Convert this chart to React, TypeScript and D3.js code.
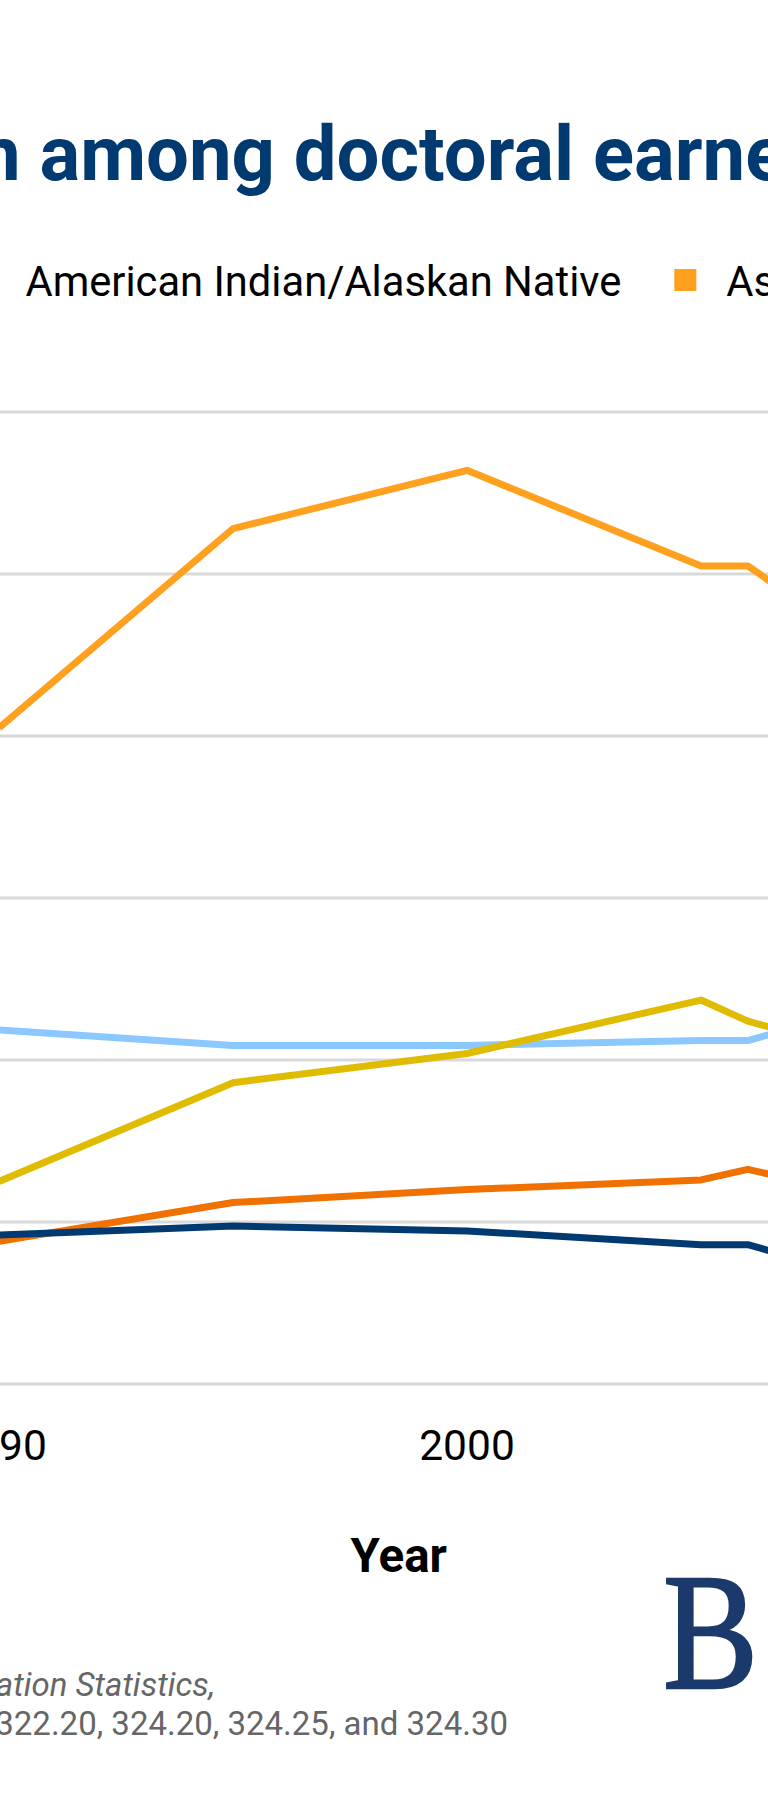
import React, { useEffect, useRef } from "react";
import * as d3 from "d3";

const W = 768;
const H = 1818;

// ---- data ----
const years = [1990, 1995, 2000, 2005, 2006, 2007];
const seriesNames = ["American Indian/Alaskan Native", "Asian", "Black", "Hispanic", "White"];
const americanIndian = [8.8, 11.2, 12.0, 12.6, 13.25, 12.6];
const asian = [40.5, 52.8, 56.4, 50.5, 50.5, 48.5];
const black = [21.85, 20.9, 20.9, 21.2, 21.2, 22.0];
const hispanic = [12.5, 18.6, 20.4, 23.7, 22.4, 21.6];
const white = [9.2, 9.75, 9.45, 8.6, 8.6, 7.8];
const seriesValues = [americanIndian, asian, black, hispanic, white];
const seriesColors = ["#F07000", "#FFA01E", "#8AC8FF", "#DFBC00", "#003A70"];
const yTicks = [0, 10, 20, 30, 40, 50, 60];
const xTicks = [1980, 1990, 2000, 2010];
const xDomain = [1980, 2017];

const titleHead = "Racial/ethnic representatio";
const titleTail = "n among doctoral earners, 1980–2017";
const sourceLine1a = "Source: U.S. Department of Education, National Center for Education Statistics, ";
const sourceLine1b = "Digest of Education Statistics,";
const sourceLine2 = "2018, Tables 322.20, 324.20, 324.25, and 324.30";

// ---- layout ----
const plotLeft = -469;
const plotRight = 1262.6;
const plotTop = 412;
const plotBottom = 1384;
const FONT = "Roboto, 'Noto Sans', sans-serif";

export default function App() {
  const ref = useRef<SVGSVGElement>(null);

  useEffect(() => {
    const svg = d3.select(ref.current);
    svg.selectAll("*").remove();

    const x = d3.scaleLinear().domain(xDomain).range([plotLeft, plotRight]);
    const y = d3.scaleLinear().domain([0, 60]).range([plotBottom, plotTop]);

    svg.append("rect").attr("width", W).attr("height", H).attr("fill", "#fff");

    // title
    const titleX = -22;
    svg.append("text")
      .attr("x", titleX).attr("y", 180)
      .attr("text-anchor", "end")
      .attr("font-family", FONT).attr("font-weight", 700).attr("font-size", 76)
      .attr("fill", "#003A70")
      .text(titleHead);
    svg.append("text")
      .attr("x", titleX).attr("y", 180)
      .attr("text-anchor", "start")
      .attr("font-family", FONT).attr("font-weight", 700).attr("font-size", 76)
      .attr("fill", "#003A70")
      .text(titleTail);

    // legend
    const legendY = 296;
    const markerSize = 22;
    const markerGap = 30;
    const itemGap = 53;
    let lx = 25.5;
    seriesNames.forEach((name, i) => {
      const g = svg.append("g");
      const t = g.append("text")
        .attr("x", lx).attr("y", legendY)
        .attr("font-family", FONT).attr("font-size", 41.7)
        .attr("fill", "#000")
        .text(name);
      g.append("rect")
        .attr("x", lx - markerGap - markerSize)
        .attr("y", legendY - 27)
        .attr("width", markerSize).attr("height", markerSize)
        .attr("fill", seriesColors[i]);
      const w = (t.node() as SVGTextElement).getComputedTextLength();
      lx = lx + w + itemGap + markerSize + markerGap;
    });

    // gridlines
    svg.append("g").selectAll("line").data(yTicks).join("line")
      .attr("x1", plotLeft).attr("x2", plotRight)
      .attr("y1", (d) => y(d)).attr("y2", (d) => y(d))
      .attr("stroke", "#D9D9D9").attr("stroke-width", 3);

    // lines
    const line = d3.line<number>()
      .x((_, i) => x(years[i]))
      .y((d) => y(d));
    svg.append("g").selectAll("path").data(seriesValues).join("path")
      .attr("d", (d) => line(d))
      .attr("fill", "none")
      .attr("stroke", (_, i) => seriesColors[i])
      .attr("stroke-width", 7)
      .attr("stroke-linejoin", "round");

    // x tick labels
    svg.append("g").selectAll("text").data(xTicks).join("text")
      .attr("x", (d) => x(d)).attr("y", 1460)
      .attr("text-anchor", "middle")
      .attr("font-family", FONT).attr("font-size", 42.5)
      .attr("fill", "#000")
      .text((d) => String(d));

    // axis title
    svg.append("text")
      .attr("x", (plotLeft + plotRight) / 2 + 2).attr("y", 1572)
      .attr("text-anchor", "middle")
      .attr("font-family", FONT).attr("font-weight", 700).attr("font-size", 47.5)
      .attr("fill", "#000")
      .text("Year");

    // source
    const s1 = svg.append("text")
      .attr("x", 215).attr("y", 1696)
      .attr("text-anchor", "end")
      .attr("font-family", FONT).attr("font-size", 33)
      .attr("fill", "#666");
    s1.append("tspan").text(sourceLine1a);
    s1.append("tspan").attr("font-style", "italic").text(sourceLine1b);
    svg.append("text")
      .attr("x", 508).attr("y", 1735)
      .attr("text-anchor", "end")
      .attr("font-family", FONT).attr("font-size", 33)
      .attr("fill", "#666")
      .text(sourceLine2);

    // logo
    svg.append("text")
      .attr("transform", "translate(663,1688) scale(0.86,1)")
      .attr("font-family", "'Liberation Serif', 'DejaVu Serif', serif")
      .attr("font-size", 166)
      .attr("fill", "#1B3A6B")
      .attr("stroke", "#1B3A6B").attr("stroke-width", 2.5)
      .text("B");
  }, []);

  return (
    <svg
      ref={ref}
      width={W}
      height={H}
      style={{ position: "absolute", left: 0, top: 0, display: "block" }}
    />
  );
}
